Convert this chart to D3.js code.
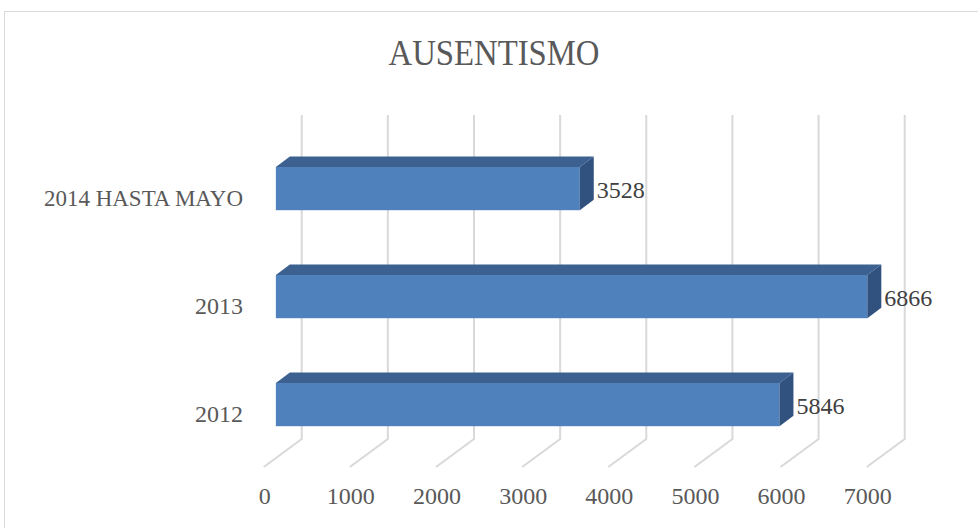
<!DOCTYPE html>
<html lang="es">
<head>
<meta charset="UTF-8">
<title>Ausentismo</title>
<script src="https://d3js.org/d3.v7.min.js"></script>
<style>
  body { margin: 0; background: #fff; }
  svg text { font-family: "Liberation Serif", "DejaVu Serif", serif; }
</style>
</head>
<body>
<div id="chart"></div>
<script>
// data
const categories = ["2014 HASTA MAYO", "2013", "2012"];
const values = [3528, 6866, 5846];
const ticks = [0, 1000, 2000, 3000, 4000, 5000, 6000, 7000];

const W = 978, H = 528;
const svg = d3.select("#chart").append("svg")
  .attr("width", W).attr("height", H);

// chart border
svg.append("rect")
  .attr("x", 4.5).attr("y", 11.5)
  .attr("width", W + 10).attr("height", H + 10)
  .attr("fill", "none").attr("stroke", "#d9d9d9").attr("stroke-width", 1);

// title
svg.append("text")
  .attr("x", 494).attr("y", 65)
  .attr("text-anchor", "middle")
  .attr("font-size", 35)
  .attr("fill", "#595959")
  .attr("textLength", 211).attr("lengthAdjust", "spacingAndGlyphs")
  .text("AUSENTISMO");

// x in value units, measured from the back wall origin
const x = d3.scaleLinear().domain([0, 7000]).range([0, 603]);
const backX = 301.7;                 // zero on back wall
const depth = { dx: -38, dy: 28 };   // back wall -> front edge of floor
const barFront = 0.68;               // depth of the bar front face
const bar3d = { dx: 14, dy: -10.5 }; // bar front -> bar back

const y = d3.scaleBand().domain(categories)
  .range([134.6, 134.6 + 3 * 108])
  .paddingInner(0.6).paddingOuter(0.3);

// gridlines: back wall vertical + floor diagonal
const gTop = 115, gBot = 439;
svg.append("g").attr("stroke", "#d9d9d9").attr("stroke-width", 2).attr("fill", "none")
  .selectAll("path").data(ticks).join("path")
  .attr("d", d => {
    const bx = backX + x(d);
    return `M${bx},${gTop}L${bx},${gBot}L${bx + depth.dx},${gBot + depth.dy}`;
  });

// tick labels on the front edge of the floor
svg.append("g").selectAll("text").data(ticks).join("text")
  .attr("x", d => backX + x(d) + depth.dx + 1)
  .attr("y", 504)
  .attr("text-anchor", "middle")
  .attr("font-size", 24)
  .attr("fill", "#595959")
  .text(d => d);

// bars
const fx = backX + depth.dx * barFront;
const bars = svg.append("g").selectAll("g").data(categories).join("g");
bars.each(function (c, i) {
  const g = d3.select(this);
  const x0 = fx, x1 = fx + x(values[i]);
  const t = y(c), b = t + y.bandwidth();
  const { dx, dy } = bar3d;
  g.append("rect")
    .attr("x", x0).attr("y", t)
    .attr("width", x1 - x0).attr("height", b - t)
    .attr("fill", "#4f81bd");
  g.append("path") // top
    .attr("d", `M${x0},${t}L${x0 + dx},${t + dy}L${x1 + dx},${t + dy}L${x1},${t}Z`)
    .attr("fill", "#3c6190");
  g.append("path") // side
    .attr("d", `M${x1},${t}L${x1 + dx},${t + dy}L${x1 + dx},${b + dy}L${x1},${b}Z`)
    .attr("fill", "#31527e");
  g.append("text")
    .attr("x", x1 + 17).attr("y", (t + b) / 2 + 9)
    .attr("font-size", 24)
    .attr("fill", "#404040")
    .text(values[i]);
});

// category labels
svg.append("g").selectAll("text").data(categories).join("text")
  .attr("x", 243)
  .attr("y", d => y(d) + y.bandwidth() / 2 + 17)
  .attr("text-anchor", "end")
  .attr("font-size", 24)
  .attr("fill", "#595959")
  .each(function (d) {
    if (d.length > 6) d3.select(this).attr("textLength", 199).attr("lengthAdjust", "spacingAndGlyphs");
  })
  .text(d => d);
</script>
</body>
</html>
